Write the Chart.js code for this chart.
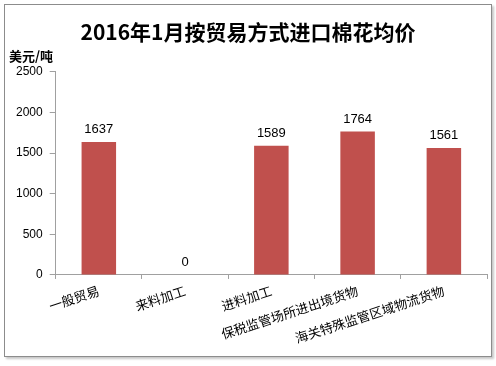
<!DOCTYPE html>
<html>
<head>
<meta charset="utf-8">
<script src="https://cdn.jsdelivr.net/npm/chart.js@4/dist/chart.umd.min.js"></script>
<style>
body{margin:0;background:#fff;}
#box{position:absolute;left:4px;top:4px;width:486px;height:351px;border:1px solid #8c8c8c;box-shadow:2px 2px 2px #c8c8c8;background:#fff;}
</style>
</head>
<body>
<div id="box"><canvas id="myChart" width="486" height="351"></canvas></div>
<script>
var cats = ["一般贸易", "来料加工", "进料加工", "保税监管场所进出境货物", "海关特殊监管区域物流货物"];
var prices = [1637, 0, 1589, 1764, 1561];
var yTicks = [0, 500, 1000, 1500, 2000, 2500];

var cjk = "'Noto Sans CJK SC', 'Liberation Sans', sans-serif";

// draw the numbers above each bar
var valueLabels = {
  id: 'valueLabels',
  afterDatasetsDraw: function(chart){
    var ctx = chart.ctx;
    var meta = chart.getDatasetMeta(0);
    ctx.save();
    ctx.font = "13px 'Liberation Sans', sans-serif";
    ctx.fillStyle = '#000';
    ctx.textAlign = 'center';
    ctx.textBaseline = 'bottom';
    meta.data.forEach(function(bar, i){
      ctx.fillText(prices[i], bar.x, bar.y - 6);
    });
    ctx.restore();
  }
};

var ctx = document.getElementById('myChart').getContext('2d');
var myChart = new Chart(ctx, {
  type: 'bar',
  data: {
    labels: cats,
    datasets: [{
      data: prices,
      backgroundColor: '#c0504d',
      barPercentage: 0.4,
      categoryPercentage: 1
    }]
  },
  options: {
    responsive: false,
    animation: false,
    layout: {padding: {left: 4, right: 4, top: 6, bottom: 6}},
    plugins: {
      legend: {display: false},
      tooltip: {enabled: false},
      title: {
        display: true,
        text: '2016年1月按贸易方式进口棉花均价',
        color: '#000',
        font: {family: cjk, size: 21, weight: 'bold'},
        padding: {top: 8, bottom: 4}
      },
      subtitle: {
        display: true,
        text: '美元/吨',
        align: 'start',
        color: '#000',
        font: {family: cjk, size: 13, weight: 'bold'},
        padding: {top: 0, bottom: 8}
      }
    },
    scales: {
      x: {
        grid: {display: true, drawOnChartArea: false, color: '#a0a0a0', tickLength: 4},
        border: {color: '#a0a0a0'},
        ticks: {
          color: '#000',
          font: {family: cjk, size: 13},
          minRotation: 18,
          maxRotation: 18,
          autoSkip: false,
          padding: 4
        }
      },
      y: {
        min: 0,
        max: 2500,
        afterBuildTicks: function(axis){
          axis.ticks = yTicks.map(function(v){ return {value: v}; });
        },
        grid: {display: true, drawOnChartArea: false, color: '#a0a0a0', tickLength: 6},
        border: {color: '#a0a0a0'},
        ticks: {
          color: '#000',
          font: {family: "'Liberation Sans', sans-serif", size: 12},
          padding: 7,
          callback: function(v){ return String(v); }
        }
      }
    }
  },
  plugins: [valueLabels]
});
</script>
</body>
</html>
